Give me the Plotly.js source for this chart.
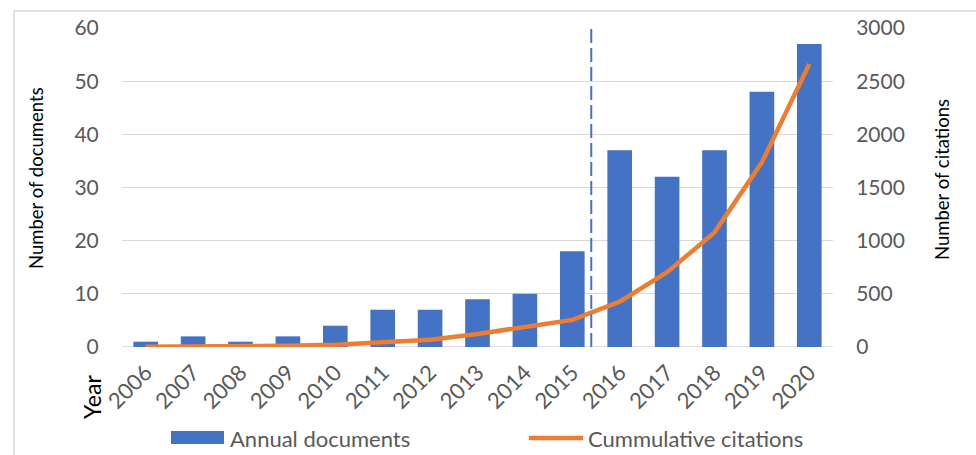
<!DOCTYPE html>
<html>
<head>
<meta charset="utf-8">
<script src="https://cdn.plot.ly/plotly-3.0.1.min.js"></script>
<style>
html,body{margin:0;padding:0;background:#fff;}
#chart{width:976px;height:455px;}
</style>
</head>
<body>
<div id="chart"></div>
<script>
const years = ['2006','2007','2008','2009','2010','2011','2012','2013','2014','2015','2016','2017','2018','2019','2020'];
const annualDocuments = [1,2,1,2,4,7,7,9,10,18,37,32,37,48,57];
const cumulativeCitations = [2,4,7,12,22,41,69,123,186,255,426,703,1078,1737,2662];
const leftTicks = [0,10,20,30,40,50,60];
const rightTicks = [0,500,1000,1500,2000,2500,3000];

const W = 976, H = 455;
const L = 122, R = 833, T = 28, B = 347;
const px = v => (v - L) / (R - L);
const py = v => (B - v) / (B - T);

const FONT = 'Lato, "Liberation Sans", Arial, sans-serif';
const GRAY = '#595959';
const BLUE = '#4472C4';
const ORANGE = '#ED7D31';

const traces = [
  {type:'bar', x:years, y:annualDocuments, name:'Annual documents',
   marker:{color:BLUE}, width:0.52, yaxis:'y', showlegend:false, hoverinfo:'skip'},
  {type:'scatter', mode:'lines', x:years, y:cumulativeCitations, name:'Cummulative citations',
   line:{color:ORANGE, width:4.5}, yaxis:'y2', showlegend:false, hoverinfo:'skip'}
];

const layout = {
  width:W, height:H,
  margin:{l:L, r:W-R, t:T, b:H-B, pad:0},
  paper_bgcolor:'#fff', plot_bgcolor:'#fff',
  font:{family:FONT, color:GRAY, size:21},
  showlegend:false,
  xaxis:{type:'category', range:[-0.5,14.5], tickangle:-45,
    showgrid:false, zeroline:false, showline:false,
    ticks:'outside', ticklen:3, tickcolor:'rgba(0,0,0,0)',
    tickfont:{family:FONT, size:22, color:GRAY}, fixedrange:true},
  yaxis:{range:[0,60], tickvals:leftTicks, showgrid:true, gridcolor:'#d9d9d9', gridwidth:1.3,
    zeroline:false, showline:false, ticks:'outside', ticklen:18, tickcolor:'rgba(0,0,0,0)',
    tickfont:{family:FONT, size:21, color:GRAY}, fixedrange:true},
  yaxis2:{range:[0,3000], tickvals:rightTicks, overlaying:'y', side:'right', showgrid:false,
    zeroline:false, showline:false, ticks:'outside', ticklen:18, tickcolor:'rgba(0,0,0,0)',
    tickfont:{family:FONT, size:21, color:GRAY}, fixedrange:true},
  shapes:[
    {type:'rect', xref:'paper', yref:'paper', x0:px(14), x1:px(1100), y0:py(600), y1:py(11),
     line:{color:'#d9d9d9', width:1.5}, fillcolor:'rgba(0,0,0,0)', layer:'below'},
    {type:'line', xref:'paper', yref:'y', x0:0, x1:1, y0:0, y1:0, line:{color:'#d9d9d9', width:1.3}, layer:'below'},
    {type:'line', xref:'x', yref:'paper', x0:9.4, x1:9.4, y0:0, y1:1,
     line:{color:BLUE, width:2, dash:'14px,5px'}},
    {type:'rect', xref:'paper', yref:'paper', x0:px(171), x1:px(224), y0:py(444), y1:py(431),
     fillcolor:BLUE, line:{width:0}},
    {type:'line', xref:'paper', yref:'paper', x0:px(529), x1:px(583), y0:py(438), y1:py(438),
     line:{color:ORANGE, width:4.5}}
  ],
  annotations:[
    {xref:'paper', yref:'paper', x:px(36), y:py(178), text:'Number of documents', textangle:-90,
     showarrow:false, font:{family:FONT, size:18.5, color:'#000'}, xanchor:'center', yanchor:'middle'},
    {xref:'paper', yref:'paper', x:px(942), y:py(180), text:'Number of citations', textangle:-90,
     showarrow:false, font:{family:FONT, size:18.5, color:'#000'}, xanchor:'center', yanchor:'middle'},
    {xref:'paper', yref:'paper', x:px(92), y:py(397), text:'Year', textangle:-90,
     showarrow:false, font:{family:FONT, size:23, color:'#000'}, xanchor:'center', yanchor:'middle'},
    {xref:'paper', yref:'paper', x:px(228), y:py(438), text:'Annual documents',
     showarrow:false, font:{family:FONT, size:22, color:GRAY}, xanchor:'left', yanchor:'middle'},
    {xref:'paper', yref:'paper', x:px(586), y:py(438), text:'Cummulative citations',
     showarrow:false, font:{family:FONT, size:22, color:GRAY}, xanchor:'left', yanchor:'middle'}
  ]
};

Plotly.newPlot('chart', traces, layout, {displayModeBar:false, staticPlot:true});
</script>
</body>
</html>
